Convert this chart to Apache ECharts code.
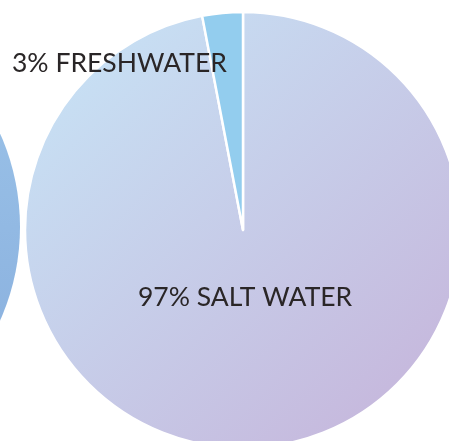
<!DOCTYPE html>
<html><head><meta charset="utf-8">
<script src="https://cdn.jsdelivr.net/npm/echarts@6/dist/echarts.min.js"></script>
<style>html,body{margin:0;padding:0;background:#fff}#c{width:449px;height:441px}</style>
</head><body><div id="c"></div>
<script>
var categories = ['SALT WATER', 'FRESHWATER'];
var values = [97, 3];
var sideValues = [100];

var chart = echarts.init(document.getElementById('c'));
var lg = function(x1,y1,x2,y2,c1,c2){return new echarts.graphic.LinearGradient(x1,y1,x2,y2,[{offset:0,color:c1},{offset:1,color:c2}],true);};
chart.setOption({
  animation:false,
  series:[
    {type:'pie', center:[-209,227], radius:229, silent:true, label:{show:false}, labelLine:{show:false},
     data:sideValues.map(function(v){return {value:v, itemStyle:{color:lg(0,0,0,456,'#9ec6ea','#86acdc')}};})},
    {type:'pie', center:[243,230], radius:218, startAngle:90, clockwise:true, silent:true,
     label:{show:false}, labelLine:{show:false},
     itemStyle:{borderColor:'#ffffff', borderWidth:2.5},
     data:[
       {name:categories[0], value:values[0], itemStyle:{color:lg(60,40,430,430,'#c7e2f5','#c6b5db')}},
       {name:categories[1], value:values[1], itemStyle:{color:'#93cdee'}}
     ]}
  ],
  graphic:[
    {type:'text', z:100, left:12, top:50, style:{text:values[1]+'% '+categories[1], fontFamily:'Lato', fontSize:26.5, fill:'#2a2627'}},
    {type:'text', z:100, left:138, top:284, style:{text:values[0]+'% '+categories[0], fontFamily:'Lato', fontSize:26.5, fill:'#2a2627'}}
  ]
});
</script></body></html>
